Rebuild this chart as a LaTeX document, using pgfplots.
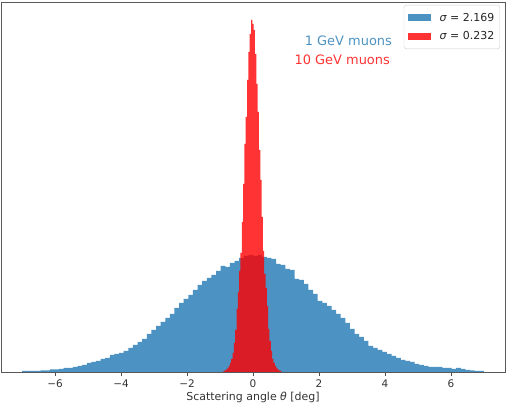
\documentclass[border=0pt]{standalone}
\usepackage{fontspec}
\setmainfont{DejaVu Sans}
\usepackage{pgfplots}
\pgfplotsset{compat=1.18}
\definecolor{mplblue}{HTML}{1F77B4}
\definecolor{txtblue}{HTML}{4C92C3}
\definecolor{txtred}{HTML}{FF3333}
\begin{document}
\begin{tikzpicture}
\begin{axis}[
  scale only axis,
  width=504bp, height=370bp,
  xmin=-7.64, xmax=7.64, ymin=0, ymax=370,
  axis line style={black!65, line width=0.9bp},
  xtick={-6,-4,-2,0,2,4,6},
  xticklabels={−6,−4,−2,0,2,4,6},
  ytick=\empty,
  tick align=outside, xtick pos=bottom,
  major tick length=3.9bp,
  tick style={black!70, line width=0.8bp},
  ticklabel style={font=\fontsize{10.5}{12}\selectfont, text=black!80},
  xlabel={Scattering angle \textit{θ} [deg]},
  xlabel style={font=\fontsize{11}{13}\selectfont, text=black!80, yshift=2bp},
  legend style={at={(0.990,0.992)}, anchor=north east, draw=black!20, rounded corners=2.5bp,
    font=\fontsize{11}{13}\selectfont, text=black!85, inner xsep=4bp, inner ysep=6.5bp,
    row sep=5.5bp, nodes={inner sep=1.5bp},
    /tikz/every odd column/.append style={column sep=7bp}},
  legend cell align=left,
  clip=false,
]
\addplot[const plot mark left, fill=mplblue, fill opacity=0.8, draw=none,
  legend image code/.code={\fill[mplblue, fill opacity=0.8, sharp corners] (0bp,-3.5bp) rectangle (23bp,3.5bp);}]
coordinates {
(-7.00,1) (-6.86,1) (-6.72,1) (-6.58,1) (-6.44,1.5) (-6.30,1.5) (-6.16,2.5) (-6.02,2.5)
(-5.88,3) (-5.74,4) (-5.60,4) (-5.46,5) (-5.32,6) (-5.18,7) (-5.04,9) (-4.90,10)
(-4.76,11) (-4.62,13) (-4.48,14) (-4.34,17) (-4.20,18) (-4.06,19) (-3.92,21) (-3.78,24)
(-3.64,27) (-3.50,30) (-3.36,33) (-3.22,38) (-3.08,42) (-2.94,46) (-2.80,50) (-2.66,54)
(-2.52,58) (-2.38,64) (-2.24,69) (-2.10,73) (-1.96,77) (-1.82,82) (-1.68,87) (-1.54,91)
(-1.40,94) (-1.26,97) (-1.12,101) (-0.98,106) (-0.84,105) (-0.70,109) (-0.56,111) (-0.42,114)
(-0.28,116) (-0.14,117) (0.00,116) (0.14,117) (0.28,115) (0.42,114) (0.56,113) (0.70,108)
(0.84,107) (0.98,103) (1.12,102) (1.26,93) (1.40,92) (1.54,88) (1.68,82) (1.82,78)
(1.96,71) (2.10,69) (2.24,66) (2.38,62) (2.52,58) (2.66,54) (2.80,49) (2.94,43)
(3.08,38) (3.22,35) (3.36,31) (3.50,26) (3.64,24) (3.78,22) (3.92,20) (4.06,18)
(4.20,16) (4.34,14) (4.48,12) (4.62,11) (4.76,10) (4.90,8) (5.04,7) (5.18,6)
(5.32,5) (5.46,5) (5.60,5) (5.74,4) (5.88,4) (6.02,3) (6.16,4) (6.30,3)
(6.44,2) (6.58,1.5) (6.72,1) (6.86,1) (7.00,1)
} \closedcycle;
\addlegendentry{\textit{σ} = 2.169}
\addplot[const plot mark left, fill=red, fill opacity=0.8, draw=none,
  legend image code/.code={\fill[red, fill opacity=0.8, sharp corners] (0bp,-3.5bp) rectangle (23bp,3.5bp);}]
coordinates {
(-0.90,1) (-0.86,1.5) (-0.82,2.5) (-0.78,4) (-0.74,6) (-0.70,9) (-0.66,13) (-0.62,19)
(-0.58,29) (-0.54,42) (-0.50,63) (-0.46,80) (-0.42,101) (-0.38,119) (-0.34,150) (-0.30,188)
(-0.26,228) (-0.22,255) (-0.18,292) (-0.14,320) (-0.10,338) (-0.06,352) (-0.02,348) (0.02,342)
(0.06,318) (0.10,288) (0.14,260) (0.18,222) (0.22,192) (0.26,155) (0.30,121) (0.34,98)
(0.38,84) (0.42,66) (0.46,43) (0.50,31) (0.54,21) (0.58,13) (0.62,9) (0.66,6)
(0.70,4) (0.74,2.5) (0.78,1.5) (0.82,1) (0.86,1)
} \closedcycle;
\addlegendentry{\textit{σ} = 0.232}
\node[anchor=east, text=txtblue, font=\fontsize{13}{15}\selectfont, inner sep=0pt] at (rel axis cs:0.776,0.895) {1 GeV muons};
\node[anchor=east, text=txtred, font=\fontsize{13}{15}\selectfont, inner sep=0pt] at (rel axis cs:0.772,0.843) {10 GeV muons};
\end{axis}
\path ([xshift=-1bp,yshift=-39bp]current axis.south west) rectangle ([xshift=5bp,yshift=2bp]current axis.north east);
\end{tikzpicture}
\end{document}
